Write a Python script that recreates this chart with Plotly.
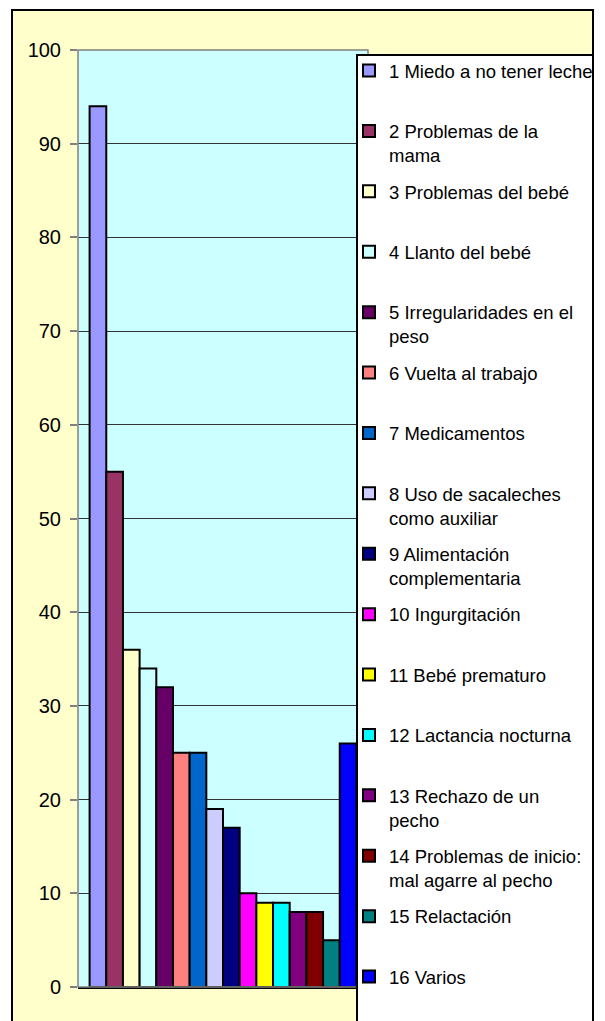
import plotly.graph_objects as go

# ---- data ----
categories = [
    "1 Miedo a no tener leche",
    "2 Problemas de la<br>mama",
    "3 Problemas del bebé",
    "4 Llanto del bebé",
    "5 Irregularidades en el<br>peso",
    "6 Vuelta al trabajo",
    "7 Medicamentos",
    "8 Uso de sacaleches<br>como auxiliar",
    "9 Alimentación<br>complementaria",
    "10 Ingurgitación",
    "11 Bebé prematuro",
    "12 Lactancia nocturna",
    "13 Rechazo de un<br>pecho",
    "14 Problemas de inicio:<br>mal agarre al pecho",
    "15 Relactación",
    "16 Varios",
]
values = [94, 55, 36, 34, 32, 25, 25, 19, 17, 10, 9, 9, 8, 8, 5, 26]
colors = [
    "#9999FF", "#993366", "#FFFFCC", "#CCFFFF", "#660066", "#FF8080",
    "#0066CC", "#CCCCFF", "#000080", "#FF00FF", "#FFFF00", "#00FFFF",
    "#800080", "#800000", "#008080", "#0000FF",
]
y_ticks = [0, 10, 20, 30, 40, 50, 60, 70, 80, 90, 100]

# ---- layout geometry (target pixels in the 605x1021 window) ----
OFF = 8  # default body margin of the html page
W, H = 605 - OFF, 1021 - OFF
L, R, T, B = 78 - OFF, 368 - OFF, 50 - OFF, 987 - OFF
pw, ph = R - L, B - T


def px_x(p):
    return (p - OFF - L) / pw


def px_y(p):
    return (B - (p - OFF)) / ph


FONT = "Liberation Sans, Arial, sans-serif"

fig = go.Figure()
n = len(categories)
for i, (name, v, c) in enumerate(zip(categories, values, colors)):
    # pad one-line entries to two lines so all entries are evenly spaced
    label = name if ("<br>" in name or i == n - 1) else name + "<br> "
    fig.add_trace(go.Bar(
        x=[0], y=[v], name=label,
        marker=dict(color=c, line=dict(color="black", width=2)),
        legendgroup=str(i),
        hoverinfo="name+y",
    ))

shapes = [
    # outer chart area
    dict(type="rect", xref="paper", yref="paper",
         x0=px_x(12), x1=px_x(593), y0=px_y(1040), y1=px_y(10),
         fillcolor="#FFFFCC", line=dict(color="black", width=2), layer="below"),
    # plot area background
    dict(type="rect", xref="paper", yref="paper",
         x0=0, x1=1, y0=0, y1=1,
         fillcolor="#CCFFFF", line=dict(width=0), layer="below"),
    # plot area border
    dict(type="rect", xref="paper", yref="paper",
         x0=0, x1=1, y0=0, y1=1,
         line=dict(color="#808080", width=1.5), layer="above"),
    # legend box
    dict(type="rect", xref="paper", yref="paper",
         x0=px_x(357), x1=px_x(593), y0=px_y(1040), y1=px_y(55),
         fillcolor="white", line=dict(color="black", width=2), layer="above"),
]

fig.update_layout(
    width=W, height=H,
    margin=dict(l=L, r=W - R, t=T, b=H - B, pad=0, autoexpand=False),
    paper_bgcolor="white",
    plot_bgcolor="rgba(0,0,0,0)",
    barmode="group", bargap=0.08, bargroupgap=0,
    font=dict(family=FONT, color="black"),
    shapes=shapes,
    showlegend=True,
    legend=dict(
        xref="container", yref="container",
        x=(349 - OFF) / W, xanchor="left",
        y=1 - (52 - OFF) / H, yanchor="top",
        bgcolor="rgba(0,0,0,0)", borderwidth=0,
        font=dict(family=FONT, size=18.5, color="black"),
        tracegroupgap=9.3, valign="top", itemwidth=30,
        traceorder="grouped", maxheight=1.0,
    ),
    xaxis=dict(range=[-0.5, 0.5], showticklabels=False, ticks="",
               showgrid=False, zeroline=False,
               showline=True, linecolor="black", linewidth=2),
    yaxis=dict(range=[0, 100], tickvals=y_ticks, ticks="outside",
               ticklen=7, tickcolor="#808080", tickwidth=1.5,
               ticklabelstandoff=5,
               tickfont=dict(family=FONT, size=20, color="black"),
               showgrid=True, gridcolor="#333333", gridwidth=1,
               zeroline=False, showline=False),
)

fig.write_html("out.html")
